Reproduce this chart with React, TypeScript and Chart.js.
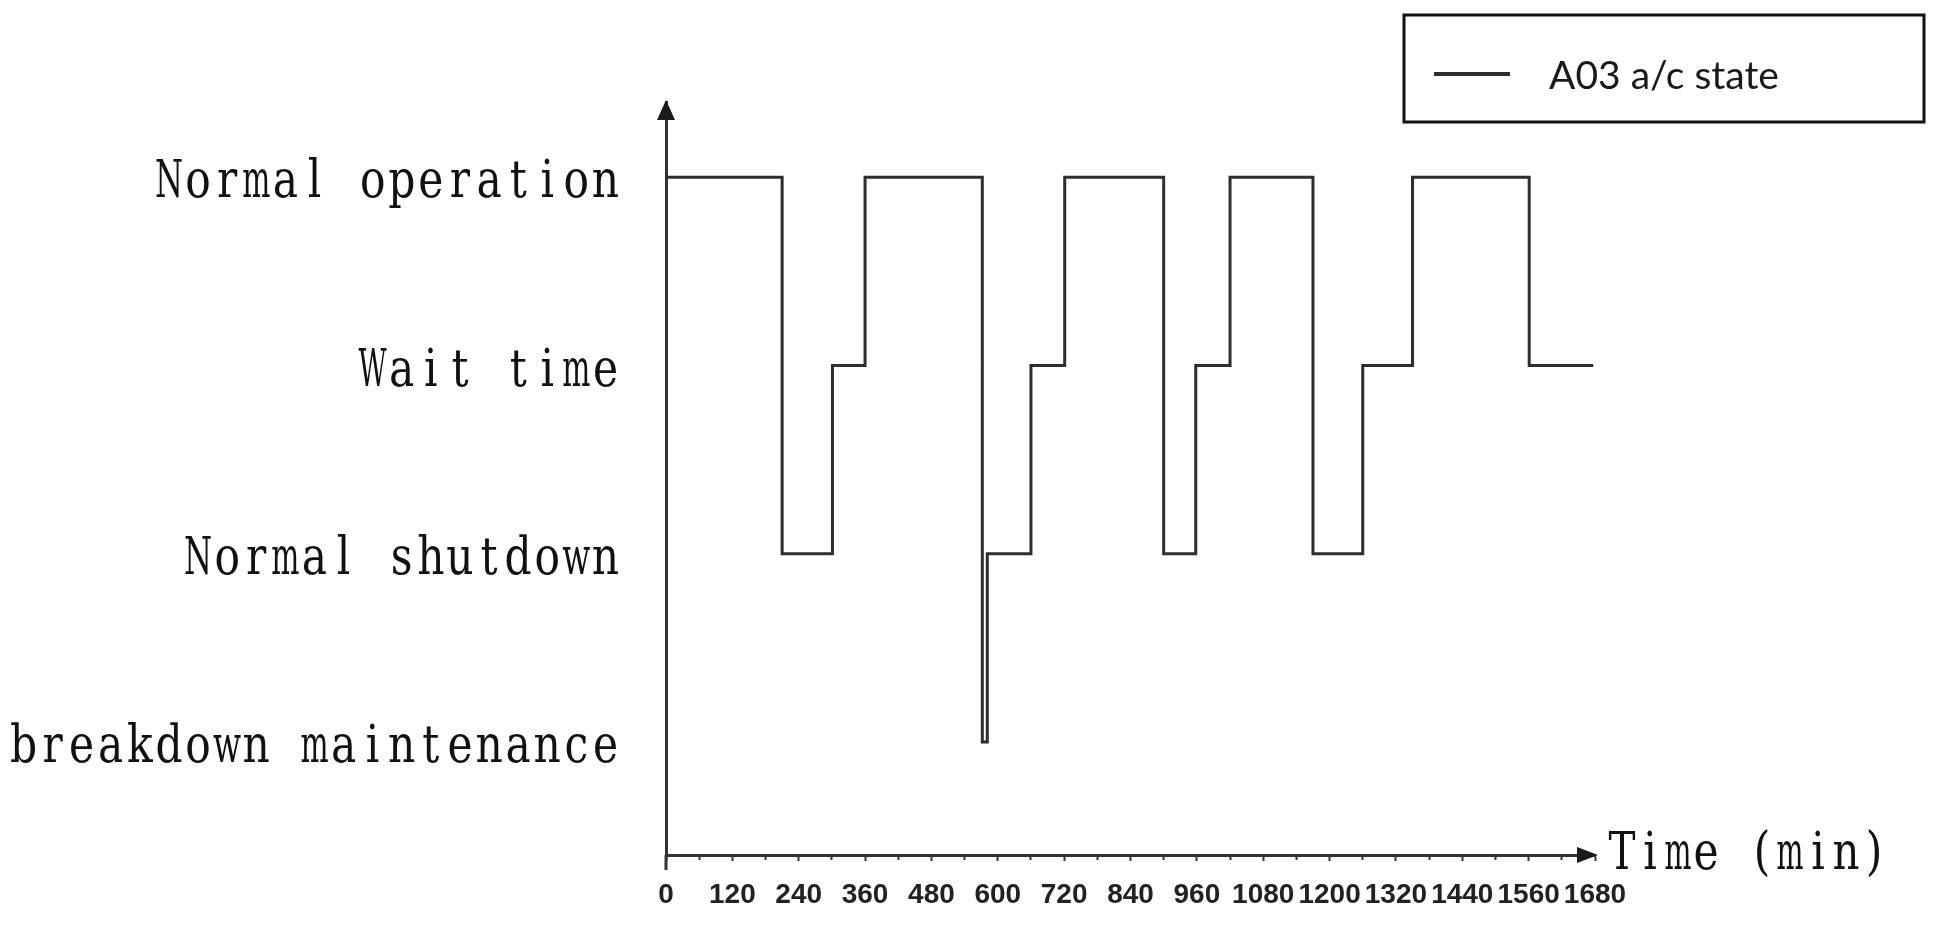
import React, { useEffect, useRef } from "react";
import { Chart, registerables } from "chart.js";

Chart.register(...registerables);

// ---- data ----
const stateLabels = ["breakdown maintenance", "Normal shutdown", "Wait time", "Normal operation"];
const stateValues = [0, 1, 2, 3];
const times = [0, 210, 301, 360, 572, 581, 660, 721, 900, 958, 1020, 1170, 1260, 1350, 1561, 1677];
const states = [3, 1, 2, 3, 0, 1, 2, 3, 1, 2, 3, 1, 2, 3, 2, 2];
const timeTickLabels = ["0", "120", "240", "360", "480", "600", "720", "840", "960", "1080", "1200", "1320", "1440", "1560", "1680"];
const seriesLabel = "A03 a/c state";
const xAxisTitle = "Time (min)";

const MONO_FONT = "53px 'DejaVu Serif', 'Liberation Serif', serif";

function drawMonoText(ctx: CanvasRenderingContext2D, text: string, leftX: number, baseline: number, cell: number) {
  ctx.save();
  ctx.font = MONO_FONT;
  ctx.textAlign = "center";
  ctx.textBaseline = "alphabetic";
  ctx.fillStyle = "#111";
  for (let i = 0; i < text.length; i++) {
    const ch = text[i];
    if (ch === " ") continue;
    const w = ctx.measureText(ch).width;
    const sx = Math.min(0.8, (cell - 1) / w);
    const cx = leftX + (i + 0.5) * cell;
    ctx.save();
    ctx.translate(cx, baseline);
    ctx.scale(sx, 1);
    ctx.fillText(ch, 0, 0);
    ctx.restore();
  }
  ctx.restore();
}

const decorPlugin = {
  id: "decor",
  afterDraw(chart: any) {
    const { ctx, chartArea } = chart;
    const x = chart.scales.x;
    const y = chart.scales.y;
    const ax = x.getPixelForValue(0);
    const ay = chartArea.bottom;
    ctx.save();
    ctx.fillStyle = "#1a1a1a";
    ctx.strokeStyle = "#333";
    // y arrow
    ctx.beginPath();
    ctx.moveTo(ax, chartArea.top - 2);
    ctx.lineTo(ax - 9, chartArea.top + 18);
    ctx.lineTo(ax + 9, chartArea.top + 18);
    ctx.closePath();
    ctx.fill();
    // y axis extension below x axis
    ctx.lineWidth = 3;
    ctx.beginPath();
    ctx.moveTo(ax, ay);
    ctx.lineTo(ax, ay + 15);
    ctx.stroke();
    // x arrow
    const right = chartArea.right;
    ctx.beginPath();
    ctx.moveTo(right + 3, ay);
    ctx.lineTo(right - 18, ay - 8);
    ctx.lineTo(right - 18, ay + 8);
    ctx.closePath();
    ctx.fill();
    ctx.restore();

    // y state labels (monospaced serif)
    const cell = 29.1;
    const labelRight = ax - 46;
    stateValues.forEach((v, i) => {
      const label = stateLabels[i];
      const py = y.getPixelForValue(v);
      drawMonoText(ctx, label, labelRight - label.length * cell, py + 20, cell);
    });

    // x axis title
    drawMonoText(ctx, xAxisTitle, right + 13, ay + 14, 28);

    // legend box
    const ds = chart.data.datasets[0];
    ctx.save();
    ctx.lineWidth = 3;
    ctx.strokeStyle = "#111";
    ctx.strokeRect(1404, 15, 520, 107);
    ctx.strokeStyle = ds.borderColor;
    ctx.lineWidth = 4;
    ctx.beginPath();
    ctx.moveTo(1434, 74);
    ctx.lineTo(1510, 74);
    ctx.stroke();
    ctx.fillStyle = "#1a1a1a";
    ctx.font = "39px Lato, 'Open Sans', sans-serif";
    ctx.textBaseline = "middle";
    ctx.textAlign = "left";
    ctx.fillText(ds.label, 1549, 76);
    ctx.restore();
  },
};

export default function App() {
  const ref = useRef<HTMLCanvasElement | null>(null);

  useEffect(() => {
    if (!ref.current) return;
    const chart = new Chart(ref.current, {
      type: "line",
      data: {
        datasets: [
          {
            label: seriesLabel,
            data: times.map((t, i) => ({ x: t, y: states[i] })),
            stepped: true,
            borderColor: "#2e2e2e",
            borderWidth: 3,
            pointRadius: 0,
            fill: false,
          },
        ],
      },
      options: {
        animation: false,
        responsive: false,
        devicePixelRatio: 1,
        layout: { padding: { left: 566, right: 342, top: 102, bottom: 0 } },
        plugins: {
          legend: { display: false },
          title: { display: false },
          tooltip: { enabled: false },
        },
        scales: {
          x: {
            type: "linear",
            min: 0,
            max: 1680,
            afterFit: (s: any) => {
              s.height = 70;
            },
            border: { display: true, color: "#333", width: 3 },
            grid: {
              display: true,
              drawOnChartArea: false,
              drawTicks: true,
              tickLength: 6,
              tickColor: "#333",
              tickWidth: 2,
              tickBorderDash: (c: any) => (c.tick && timeTickLabels.includes(String(c.tick.value)) ? [] : [3, 10]),
            },
            ticks: {
              stepSize: 60,
              autoSkip: false,
              maxRotation: 0,
              padding: 17,
              color: "#222",
              font: { family: "'Liberation Sans', Arial, sans-serif", size: 28, weight: "bold" },
              callback: (v: any) => (timeTickLabels.includes(String(v)) ? String(v) : ""),
            },
          },
          y: {
            type: "linear",
            min: -0.6,
            max: 3.4,
            afterFit: (s: any) => {
              s.width = 100;
            },
            border: { display: true, color: "#333", width: 3 },
            grid: { display: false, drawTicks: false },
            ticks: { display: false },
          },
        },
      },
      plugins: [decorPlugin],
    });
    return () => chart.destroy();
  }, []);

  return (
    <canvas
      ref={ref}
      width={1937}
      height={925}
      style={{ position: "fixed", left: 0, top: 0, width: 1937, height: 925, background: "#fff" }}
    />
  );
}
